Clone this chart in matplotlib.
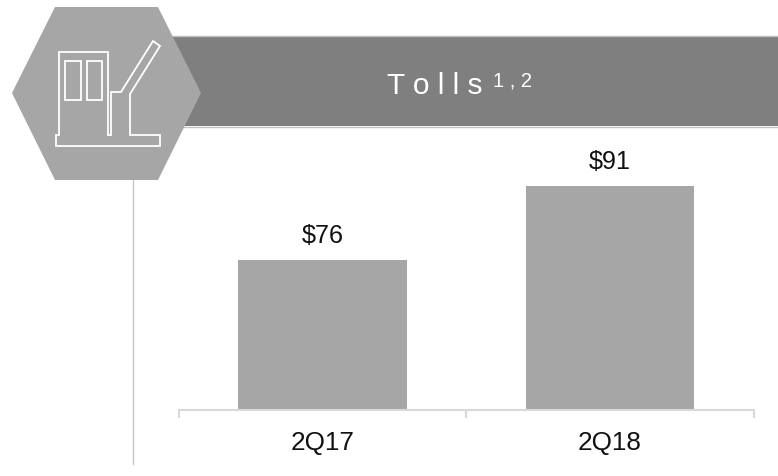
import matplotlib
matplotlib.use('Agg')
import matplotlib.pyplot as plt
from matplotlib.patches import Polygon, Rectangle

plt.rcParams['font.family'] = ['Liberation Sans', 'DejaVu Sans']

quarters = ['2Q17', '2Q18']
tolls = [76, 91]
value_labels = ['$76', '$91']

W, H = 778, 476
BAR_GREY = '#a6a6a6'
BAND_GREY = '#7f7f7f'
RULE_GREY = '#c9c9c9'
AXIS_GREY = '#d9d9d9'

fig = plt.figure(figsize=(W / 100, H / 100), dpi=100, facecolor='white')

# page decoration drawn in pixel coords, y down
bg = fig.add_axes([0, 0, 1, 1])
bg.set_xlim(0, W)
bg.set_ylim(H, 0)
bg.axis('off')

bg.add_patch(Rectangle((165, 36), W - 165, 90, fc=BAND_GREY, ec='none', zorder=1))
bg.plot([165, W], [36, 36], color='#c0c0c0', lw=1, zorder=1)
bg.plot([165, W], [126.5, 126.5], color='#c4c4c4', lw=1, zorder=1)
bg.plot([133, 133], [180, 464], color=RULE_GREY, lw=1, zorder=1)
bg.add_patch(Polygon([(12, 93), (55, 7), (158, 7), (201, 93), (158, 180), (55, 180)],
                     fc=BAR_GREY, ec='none', zorder=2))

# toll booth icon
booth = [(56, 146), (160, 146), (160, 135), (130, 135), (130, 94), (160, 46), (153, 41),
         (121, 92), (111, 92), (111, 135), (108, 135), (108, 52), (59, 52), (59, 135), (56, 135)]
bg.add_patch(Polygon(booth, fc='none', ec='white', lw=1.3, zorder=3))
bg.add_patch(Rectangle((65, 61), 16, 39, fc='none', ec='white', lw=1.3, zorder=3))
bg.add_patch(Rectangle((87, 61), 15, 39, fc='none', ec='white', lw=1.3, zorder=3))

bg.text(387, 94.5, 'T o l l s', color='white', fontsize=21.5, ha='left', va='baseline')
bg.text(493, 86.5, '1 , 2', color='white', fontsize=14.5, ha='left', va='baseline')

# chart
ax = fig.add_axes([178.9 / W, 1 - 409.8 / H, 574.8 / W, 280 / H])
ax.patch.set_alpha(0)
ax.bar(range(len(tolls)), tolls, width=0.588, color=BAR_GREY)
ax.set_xlim(-0.5, 1.5)
ax.set_ylim(45.3, 102.5)
for i, v in enumerate(tolls):
    ax.annotate(value_labels[i], (i, v), xytext=(0, 12.2), textcoords='offset points',
                ha='center', va='baseline', fontsize=18.2, color='#111111')

for s in ['top', 'left', 'right']:
    ax.spines[s].set_visible(False)
ax.spines['bottom'].set_color(AXIS_GREY)
ax.spines['bottom'].set_linewidth(1.5)
ax.set_yticks([])
ax.set_xticks(range(len(quarters)))
ax.set_xticklabels(quarters, fontsize=18.8, color='#111111')
ax.tick_params(axis='x', which='major', length=0, pad=15.5)
ax.set_xticks([-0.5, 0.5, 1.5], minor=True)
ax.tick_params(axis='x', which='minor', length=6, width=1.5, color=AXIS_GREY)

fig.savefig('out.png', dpi=100)
